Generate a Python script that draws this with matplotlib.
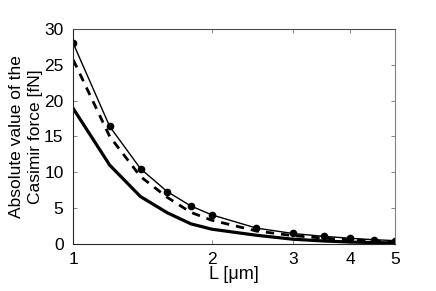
import matplotlib as mpl
import matplotlib.pyplot as plt
from matplotlib.ticker import FixedLocator, NullLocator, FixedFormatter

mpl.rcParams["font.family"] = ["Liberation Sans", "DejaVu Sans"]

L = [1.0, 1.2, 1.4, 1.6, 1.8, 2.0, 2.5, 3.0, 3.5, 4.0, 4.5, 5.0]
force_thin = [28.0, 16.4, 10.5, 7.3, 5.3, 4.05, 2.2, 1.45, 1.05, 0.78, 0.58, 0.45]
force_dashed = [25.7, 15.0, 9.4, 6.5, 4.4, 3.3, 1.8, 1.15, 0.8, 0.55, 0.4, 0.3]
force_thick = [18.9, 11.0, 6.6, 4.35, 2.8, 2.05, 1.2, 0.65, 0.4, 0.25, 0.18, 0.12]

xticks = [1, 2, 3, 4, 5]
yticks = [0, 5, 10, 15, 20, 25, 30]

fig = plt.figure(figsize=(4.36, 2.91), dpi=100)
ax = fig.add_axes([0.168, 0.162, 0.738, 0.738])

ax.plot(L, force_thin, "k-", lw=1.0, marker="o", ms=4.5)
ax.plot(L, force_dashed, "k--", lw=2.0, dashes=(3, 2.5))
ax.plot(L, force_thick, "k-", lw=2.3)

ax.set_xscale("log")
ax.set_xlim(1, 5)
ax.set_ylim(0, 30)
ax.xaxis.set_major_locator(FixedLocator(xticks))
ax.xaxis.set_major_formatter(FixedFormatter([str(t) for t in xticks]))
ax.xaxis.set_minor_locator(NullLocator())
ax.set_yticks(yticks)

ax.tick_params(direction="in", top=True, right=True, length=3, width=0.6,
               labelsize=12.5, color="0.45")
ax.tick_params(axis="x", pad=6)
ax.tick_params(axis="y", pad=7)
for s in ax.spines.values():
    s.set_linewidth(0.8)
    s.set_color("0.15")
ax.spines["right"].set_color("0.5")
ax.spines["top"].set_color("0.3")

ax.set_xlabel("L [μm]", fontsize=13, labelpad=-1)
ax.set_ylabel("Absolute value of the\nCasimir force [fN]", fontsize=12.5,
              labelpad=1, linespacing=1.3)

fig.savefig("out.png", dpi=100)
